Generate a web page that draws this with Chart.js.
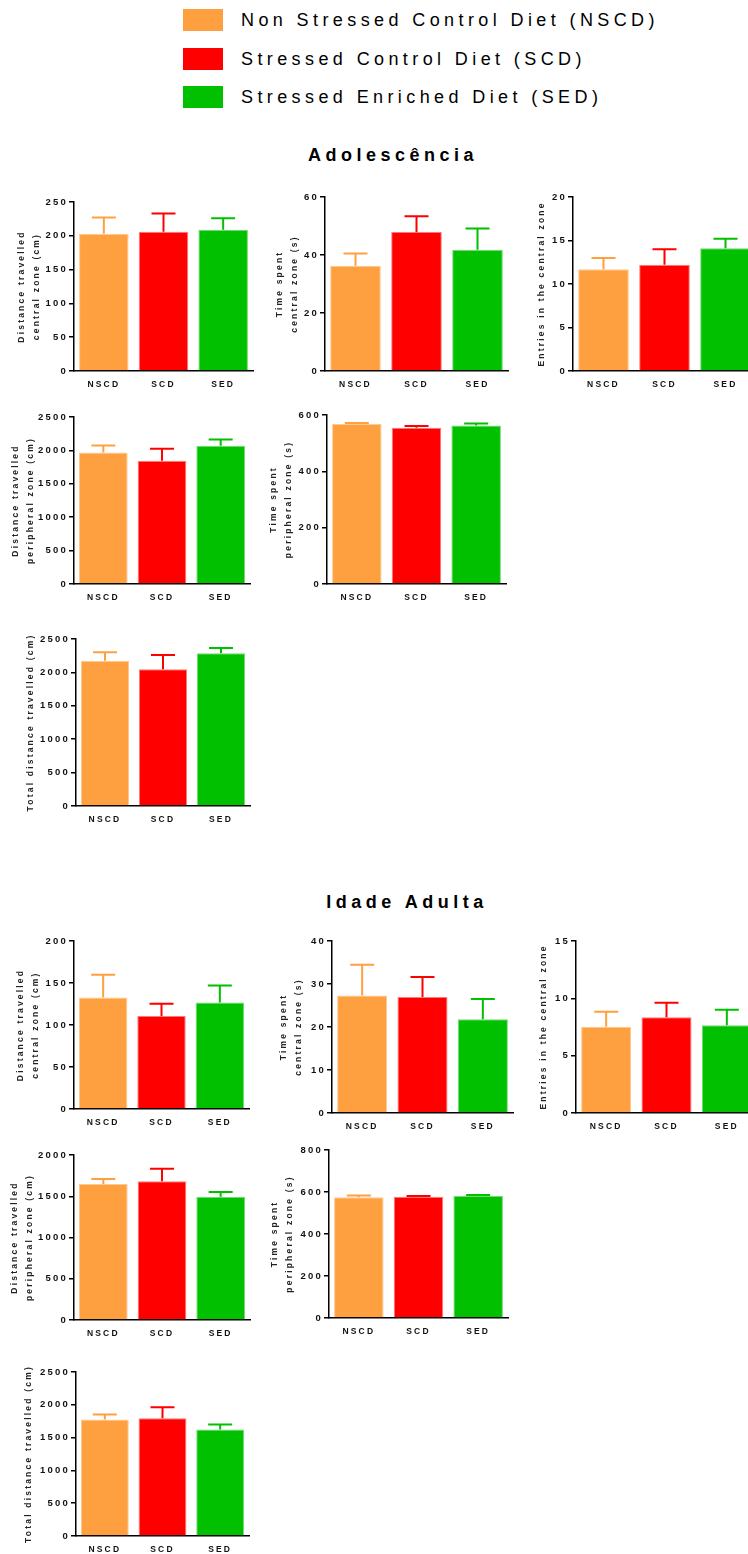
<!DOCTYPE html>
<html>
<head>
<meta charset="utf-8">
<script src="https://cdn.jsdelivr.net/npm/chart.js@4.4.1/dist/chart.umd.min.js"></script>
<style>
  body { margin: 0; width: 748px; height: 1554px; position: relative; overflow: hidden; background: #fff;
         font-family: "Liberation Sans", Arial, sans-serif; color: #111; }
  canvas { position: absolute; }
  .leg-row { position: absolute; left: 183px; height: 22px; }
  .leg-box { position: absolute; left: 0; top: 0; width: 40px; height: 22px; }
  .leg-text { position: absolute; left: 58px; top: 0; line-height: 22px; font-size: 18px; letter-spacing: 4.4px; white-space: nowrap; color: #000; }
  .section { position: absolute; width: 300px; text-align: center; font-size: 18px; font-weight: bold;
             letter-spacing: 4.5px; line-height: 20px; color: #000; }
</style>
</head>
<body>
<div id="legend"></div>
<div class="section" style="left:243px; top:145px;">Adolescência</div>
<div class="section" style="left:257px; top:892px;">Idade Adulta</div>
<script>
const groups = ['NSCD', 'SCD', 'SED'];
const legendLabels = ['Non Stressed Control Diet (NSCD)', 'Stressed Control Diet (SCD)', 'Stressed Enriched Diet (SED)'];
const groupColors = ['#FFA040', '#FF0000', '#00C000'];
const groupEdges = ['#FFC98C', '#FF7A7A', '#74DA74'];

// Adolescência: mean and SEM per group
const adolDistCentral = [203, 206, 209];
const adolDistCentralSem = [24, 27, 17];
const adolDistCentralTicks = [0, 50, 100, 150, 200, 250];

const adolTimeCentral = [36.3, 47.9, 41.8];
const adolTimeCentralSem = [4.2, 5.5, 7.3];
const adolTimeCentralTicks = [0, 20, 40, 60];

const adolEntries = [11.7, 12.2, 14.1];
const adolEntriesSem = [1.3, 1.8, 1.1];
const adolEntriesTicks = [0, 5, 10, 15, 20];

const adolDistPeriph = [1970, 1845, 2070];
const adolDistPeriphSem = [105, 180, 95];
const adolDistPeriphTicks = [0, 500, 1000, 1500, 2000, 2500];

const adolTimePeriph = [568, 555, 563];
const adolTimePeriphSem = [3.6, 6, 7];
const adolTimePeriphTicks = [0, 200, 400, 600];

const adolTotalDist = [2174, 2049, 2285];
const adolTotalDistSem = [126, 210, 80];
const adolTotalDistTicks = [0, 500, 1000, 1500, 2000, 2500];

// Idade Adulta
const adultDistCentral = [132.8, 110.7, 126.9];
const adultDistCentralSem = [26.9, 14.6, 20.1];
const adultDistCentralTicks = [0, 50, 100, 150, 200];

const adultTimeCentral = [27.3, 27.0, 21.8];
const adultTimeCentralSem = [7.2, 4.6, 4.7];
const adultTimeCentralTicks = [0, 10, 20, 30, 40];

const adultEntries = [7.53, 8.34, 7.65];
const adultEntriesSem = [1.31, 1.28, 1.36];
const adultEntriesTicks = [0, 5, 10, 15];

const adultDistPeriph = [1648, 1681, 1495];
const adultDistPeriphSem = [61, 153, 57];
const adultDistPeriphTicks = [0, 500, 1000, 1500, 2000];

const adultTimePeriph = [575, 577, 581];
const adultTimePeriphSem = [8, 4.4, 5];
const adultTimePeriphTicks = [0, 200, 400, 600, 800];

const adultTotalDist = [1775, 1795, 1623];
const adultTotalDistSem = [76, 167, 76];
const adultTotalDistTicks = [0, 500, 1000, 1500, 2000, 2500];

const titleDistCentral = ['Distance travelled', 'central zone (cm)'];
const titleTimeCentral = ['Time spent', 'central zone (s)'];
const titleEntries = 'Entries in the central zone';
const titleDistPeriph = ['Distance travelled', 'peripheral zone (cm)'];
const titleTimePeriph = ['Time spent', 'peripheral zone (s)'];
const titleTotal = 'Total distance travelled (cm)';

// page placement of each panel (axis line x, top tick y, zero y, axis end x, y-title x)
const panels = [
  { mean: adolDistCentral, sem: adolDistCentralSem, ticks: adolDistCentralTicks, title: titleDistCentral, axisX: 74, topY: 202, zeroY: 371, rightX: 253, titleX: 22 },
  { mean: adolTimeCentral, sem: adolTimeCentralSem, ticks: adolTimeCentralTicks, title: titleTimeCentral, axisX: 325, topY: 197, zeroY: 371, rightX: 508, titleX: 280 },
  { mean: adolEntries, sem: adolEntriesSem, ticks: adolEntriesTicks, title: titleEntries, axisX: 573, topY: 197, zeroY: 371, rightX: 756, titleX: 542 },
  { mean: adolDistPeriph, sem: adolDistPeriphSem, ticks: adolDistPeriphTicks, title: titleDistPeriph, axisX: 74, topY: 417, zeroY: 584, rightX: 250, titleX: 16 },
  { mean: adolTimePeriph, sem: adolTimePeriphSem, ticks: adolTimePeriphTicks, title: titleTimePeriph, axisX: 327, topY: 415, zeroY: 584, rightX: 506, titleX: 274 },
  { mean: adolTotalDist, sem: adolTotalDistSem, ticks: adolTotalDistTicks, title: titleTotal, axisX: 76, topY: 639, zeroY: 806, rightX: 250, titleX: 31 },
  { mean: adultDistCentral, sem: adultDistCentralSem, ticks: adultDistCentralTicks, title: titleDistCentral, axisX: 74, topY: 941, zeroY: 1109, rightX: 249, titleX: 21 },
  { mean: adultTimeCentral, sem: adultTimeCentralSem, ticks: adultTimeCentralTicks, title: titleTimeCentral, axisX: 332, topY: 941, zeroY: 1113, rightX: 513, titleX: 284 },
  { mean: adultEntries, sem: adultEntriesSem, ticks: adultEntriesTicks, title: titleEntries, axisX: 576, topY: 941, zeroY: 1113, rightX: 757, titleX: 544 },
  { mean: adultDistPeriph, sem: adultDistPeriphSem, ticks: adultDistPeriphTicks, title: titleDistPeriph, axisX: 74, topY: 1155, zeroY: 1320, rightX: 250, titleX: 15 },
  { mean: adultTimePeriph, sem: adultTimePeriphSem, ticks: adultTimePeriphTicks, title: titleTimePeriph, axisX: 329, topY: 1150, zeroY: 1318, rightX: 508, titleX: 275 },
  { mean: adultTotalDist, sem: adultTotalDistSem, ticks: adultTotalDistTicks, title: titleTotal, axisX: 76, topY: 1372, zeroY: 1536, rightX: 249, titleX: 29 },
];

// legend
const legend = document.getElementById('legend');
legendLabels.forEach((label, i) => {
  const row = document.createElement('div');
  row.className = 'leg-row';
  row.style.top = (9 + i * 38.5) + 'px';
  row.innerHTML = `<div class="leg-box" style="background:${groupColors[i]}"></div><div class="leg-text">${label}</div>`;
  legend.appendChild(row);
});

const spacing = {
  id: 'spacing',
  beforeDraw(chart) { chart.ctx.letterSpacing = '2.2px'; },
};

// upper SEM bars with a cap, coloured like the bar
const errorBars = {
  id: 'errorBars',
  afterDatasetsDraw(chart, args, opts) {
    const { ctx } = chart;
    const y = chart.scales.y;
    const meta = chart.getDatasetMeta(0);
    const values = chart.data.datasets[0].data;
    ctx.save();
    ctx.lineWidth = 2;
    meta.data.forEach((bar, i) => {
      const top = y.getPixelForValue(values[i] + opts.sem[i]);
      ctx.strokeStyle = groupColors[i];
      ctx.beginPath();
      ctx.moveTo(bar.x, bar.y);
      ctx.lineTo(bar.x, top);
      ctx.moveTo(bar.x - 12, top);
      ctx.lineTo(bar.x + 12, top);
      ctx.stroke();
    });
    ctx.restore();
  },
};

const YW = 72, XH = 24, PT = 7, PR = 1, LH = 15;

panels.forEach(p => {
  const canvas = document.createElement('canvas');
  const left = p.axisX - YW;
  const top = p.topY - PT;
  const w = YW + (p.rightX - p.axisX) + PR;
  const h = PT + (p.zeroY - p.topY) + XH;
  canvas.width = w;
  canvas.height = h;
  canvas.style.left = left + 'px';
  canvas.style.top = top + 'px';
  canvas.style.width = w + 'px';
  canvas.style.height = h + 'px';
  document.body.appendChild(canvas);

  new Chart(canvas, {
    type: 'bar',
    data: {
      labels: groups,
      datasets: [{
        data: p.mean,
        backgroundColor: groupColors,
        borderColor: groupEdges,
        borderWidth: 1,
        barPercentage: 0.83,
        categoryPercentage: 1,
      }],
    },
    options: {
      responsive: false,
      animation: false,
      devicePixelRatio: 1,
      layout: { padding: { top: PT, right: PR, left: 0, bottom: 0 } },
      plugins: {
        legend: { display: false },
        tooltip: { enabled: false },
        errorBars: { sem: p.sem },
      },
      scales: {
        x: {
          grid: { drawOnChartArea: false, drawTicks: false },
          border: { color: '#000', width: 1.5 },
          ticks: { color: '#111', font: { family: 'Liberation Sans', size: 8.5, weight: 'bold' }, padding: 9 },
          afterFit: s => { s.height = XH; },
        },
        y: {
          min: 0,
          max: p.ticks[p.ticks.length - 1],
          ticks: {
            stepSize: p.ticks[1],
            color: '#111',
            font: { family: 'Liberation Sans', size: 9.5, weight: 'bold' },
            padding: 1,
            callback: v => String(v),
          },
          grid: { drawOnChartArea: false, tickLength: 5, color: '#000', lineWidth: 1.5 },
          border: { color: '#000', width: 1.5 },
          title: {
            display: true,
            text: p.title,
            color: '#222',
            font: { family: 'Liberation Sans', size: 8.5, weight: 'bold', lineHeight: LH / 8.5 },
            padding: { top: p.titleX - left - LH / 2, bottom: 0 },
          },
          afterFit: s => { s.width = YW; },
        },
      },
    },
    plugins: [spacing, errorBars],
  });
});
</script>
</body>
</html>
